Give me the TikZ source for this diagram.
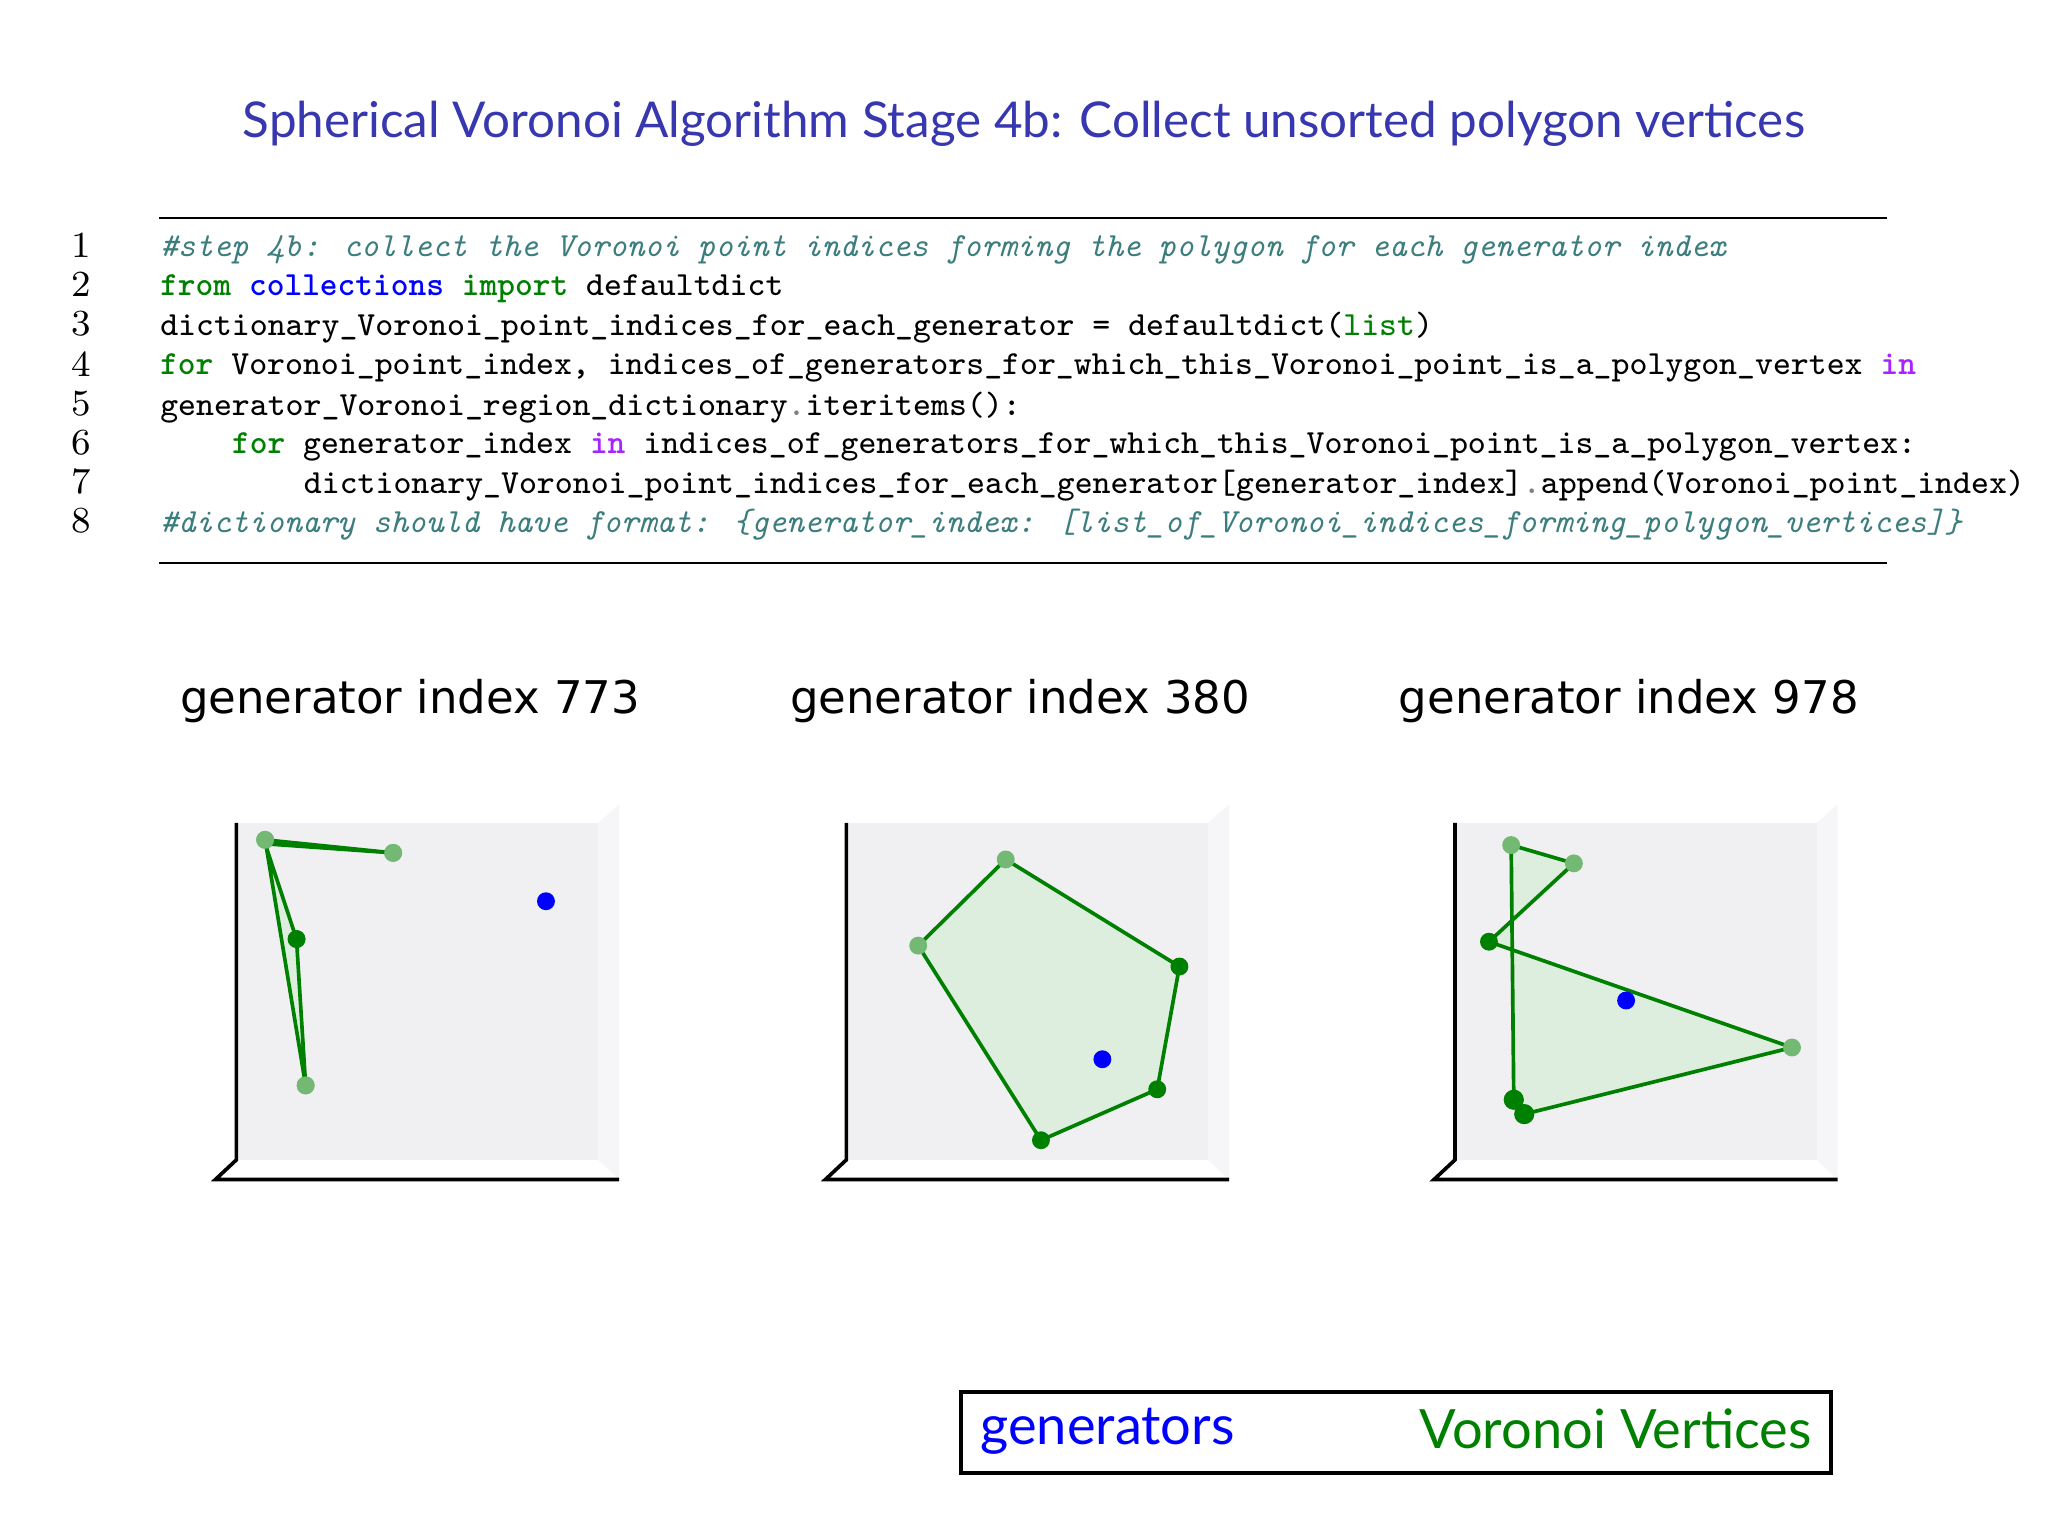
\documentclass[tikz,border=0pt]{standalone}
\usepackage{fontspec}
\newfontfamily\titlefont{Lato}
\newfontfamily\djv{DejaVu Sans}
\definecolor{ttl}{RGB}{55,55,175}
\definecolor{kw}{RGB}{0,128,0}
\definecolor{nb}{RGB}{0,0,255}
\definecolor{pur}{RGB}{170,34,255}
\definecolor{cmt}{RGB}{60,125,125}
\definecolor{pane}{RGB}{240,240,243}
\definecolor{pane2}{RGB}{246,246,248}
\definecolor{vg}{RGB}{0,128,0}
\begin{document}
\begin{tikzpicture}[x=0.01cm,y=-0.01cm,
  code/.style={anchor=west,inner sep=0,font=\fontsize{7.35}{9}\selectfont\ttfamily},
  lnum/.style={anchor=center,inner sep=0,font=\fontsize{8}{9}\selectfont},
  ptitle/.style={inner sep=0,font=\djv\fontsize{9.8}{11}\selectfont},
  vpt/.style={circle,fill=vg,inner sep=0,minimum size=3.9pt},
  vptl/.style={circle,fill=vg!55,inner sep=0,minimum size=3.9pt},
  gpt/.style={circle,fill=nb,inner sep=0,minimum size=3.9pt},
  poly/.style={draw=vg,line width=0.8pt,fill=vg!13,line join=round}]
\useasboundingbox (0,0) rectangle (1568,1176);
\fill[white] (0,0) rectangle (1568,1176);
\node[font=\titlefont\fontsize{10.75}{13}\selectfont,text=ttl] (title) at (784,95) {Spherical Voronoi Algorithm Stage 4b: Collect unsorted polygon vertices};
\draw[line width=0.6pt] (122,167) -- (1445,167);
\draw[line width=0.6pt] (122,431) -- (1445,431);
\foreach \i/\y in {1/188,2/218,3/248,4/279,5/309,6/339,7/369,8/399}{\node[lnum] (n\i) at (62,\y) {\i};}
\begin{scope}[yshift=-0.03cm]
\node[code] (c1) at (122,188) {\color{cmt}\itshape \#step 4b: collect the Voronoi point indices forming the polygon for each generator index};
\node[code] (c2) at (122,218) {{\color{kw}\bfseries from} {\color{nb}\bfseries collections} {\color{kw}\bfseries import} defaultdict};
\node[code] (c3) at (122,248) {dictionary\_Voronoi\_point\_indices\_for\_each\_generator = defaultdict({\color{kw}list})};
\node[code] (c4) at (122,279) {{\color{kw}\bfseries for} Voronoi\_point\_index, indices\_of\_generators\_for\_which\_this\_Voronoi\_point\_is\_a\_polygon\_vertex {\color{pur}\bfseries in}};
\node[code] (c5) at (122,309) {generator\_Voronoi\_region\_dictionary{\color{gray}.}iteritems():};
\node[code] (c6) at (177,339) {{\color{kw}\bfseries for} generator\_index {\color{pur}\bfseries in} indices\_of\_generators\_for\_which\_this\_Voronoi\_point\_is\_a\_polygon\_vertex:};
\node[code] (c7) at (232,369) {dictionary\_Voronoi\_point\_indices\_for\_each\_generator[generator\_index]{\color{gray}.}append(Voronoi\_point\_index)};
\node[code] (c8) at (122,399) {\color{cmt}\itshape \#dictionary should have format: \{generator\_index: [list\_of\_Voronoi\_indices\_forming\_polygon\_vertices]\}};
\end{scope}
% panels
\foreach \dx/\t in {0/773,467/380,933/978}{
  \begin{scope}[xshift=\dx*0.01cm]
  \fill[pane2] (458,630) -- (474,616) -- (474,903) -- (458,888) -- cycle;
  \fill[pane] (181,630) rectangle (458,888);
  \draw[line width=0.8pt] (181,630) -- (181,888) -- (165,903) -- (474,903);
  \node[ptitle] (t\t) at (314,537) {generator index \t};
  \end{scope}}
% panel 1
\node[vptl] (a1) at (203,643) {};
\node[vptl] (a2) at (301,653) {};
\node[vpt] (a3) at (227,719) {};
\node[vptl] (a4) at (234,831) {};
\draw[poly] (a1.center) -- (a2.center) -- (203,646) -- (a3.center) -- (a4.center) -- cycle;
\foreach \p in {a1,a2,a4}{\node[vptl] at (\p) {};}
\node[vpt] at (a3) {};
\node[gpt] (g1) at (418,690) {};
% panel 2
\coordinate (b1) at (770,658); \coordinate (b2) at (903,740); \coordinate (b3) at (886,834);
\coordinate (b4) at (797,873); \coordinate (b5) at (703,724);
\draw[poly] (b1) -- (b2) -- (b3) -- (b4) -- (b5) -- cycle;
\node[vptl] at (b1) {}; \node[vptl] at (b5) {};
\node[vpt] at (b2) {}; \node[vpt] at (b3) {}; \node[vpt] at (b4) {};
\node[gpt] (g2) at (844,811) {};
% panel 3
\coordinate (d1) at (1157,647); \coordinate (d2) at (1205,661); \coordinate (d3) at (1140,721);
\coordinate (d4) at (1372,802); \coordinate (d5) at (1167,853); \coordinate (d6) at (1159,842);
\draw[poly] (d1) -- (d2) -- (d3) -- (d4) -- (d5) -- (d6) -- cycle;
\node[vptl] at (d1) {}; \node[vptl] at (d2) {}; \node[vptl] at (d4) {};
\node[vpt] at (d3) {}; \node[vpt,minimum size=4.4pt] at (d5) {}; \node[vpt,minimum size=4.4pt] at (d6) {};
\node[gpt] (g3) at (1245,766) {};
% legend
\draw[line width=0.8pt] (736,1066) rectangle (1402,1128);
\node[anchor=west,inner sep=0,font=\titlefont\fontsize{11.8}{13}\selectfont,text=nb] (lg) at (750,1096) {generators};
\node[anchor=east,inner sep=0,font=\titlefont\fontsize{11.8}{13}\selectfont,text=vg] (lv) at (1388,1094) {Voronoi Vertices};
\end{tikzpicture}
\end{document}
